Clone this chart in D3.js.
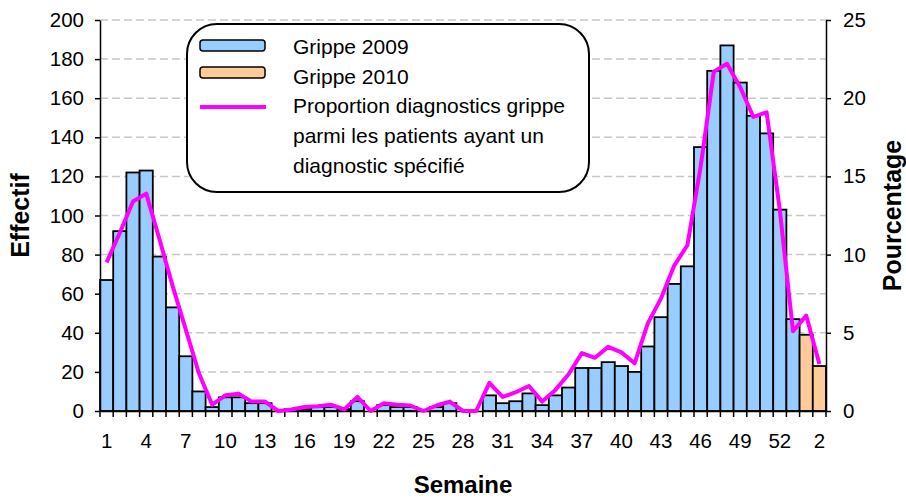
<!DOCTYPE html>
<html>
<head>
<meta charset="utf-8">
<script src="https://cdn.jsdelivr.net/npm/d3@7"></script>
<style>
  body { margin: 0; background: #fff; }
  svg { display: block; font-family: "Liberation Sans", Arial, sans-serif; }
</style>
</head>
<body>
<div id="chart"></div>
<script>
// semaines (2009 : 1..53, puis 2010 : 1..2)
const semaines2009 = [1, 2, 3, 4, 5, 6, 7, 8, 9, 10, 11, 12, 13, 14, 15, 16, 17, 18, 19, 20,
  21, 22, 23, 24, 25, 26, 27, 28, 29, 30, 31, 32, 33, 34, 35, 36, 37, 38, 39, 40,
  41, 42, 43, 44, 45, 46, 47, 48, 49, 50, 51, 52, 53];
const semaines2010 = [1, 2];

// effectifs
const grippe2009 = [67, 92, 122, 123, 79, 53, 28, 10, 2, 7, 7, 4, 4, 0, 1, 1, 2, 2, 1, 5,
  0, 3, 2, 2, 0, 2, 4, 0, 0, 8, 4, 5, 9, 3, 8, 12, 22, 22, 25, 23,
  20, 33, 48, 65, 74, 135, 174, 187, 168, 151, 142, 103, 47];
const grippe2010 = [39, 23];

// proportion (%) - 2009 puis 2010
const proportion = [9.5, 11.4, 13.4, 13.9, 11.0, 8.0, 5.2, 2.4, 0.4, 1.0,
  1.1, 0.6, 0.6, 0, 0.1, 0.25, 0.3, 0.4, 0.1, 0.9,
  0, 0.5, 0.4, 0.35, 0, 0.35, 0.6, 0, 0, 1.8,
  0.9, 1.2, 1.6, 0.6, 1.35, 2.35, 3.7, 3.4, 4.1, 3.75,
  3.05, 5.6, 7.2, 9.3, 10.6, 15.6, 21.7, 22.2, 20.7, 18.8,
  19.1, 12.85, 5.1, 6.1, 3.0];

const yTicks = [0, 20, 40, 60, 80, 100, 120, 140, 160, 180, 200];
const pctTicks = [0, 5, 10, 15, 20, 25];

const legendLabels = ['Grippe 2009', 'Grippe 2010',
  ['Proportion diagnostics grippe', 'parmi les patients ayant un', 'diagnostic spécifié']];

const colors = { g2009: '#99ccff', g2010: '#ffcc99', line: '#ff00ff' };

const width = 906, height = 499;
const margin = { top: 20, right: 80, bottom: 88, left: 100 };

// rows built from the arrays
const rows = semaines2009.map((s, i) => ({ key: `2009-${s}`, label: s, value: grippe2009[i], year: 2009 }))
  .concat(semaines2010.map((s, i) => ({ key: `2010-${s}`, label: s, value: grippe2010[i], year: 2010 })));
rows.forEach((d, i) => { d.pct = proportion[i]; });

const svg = d3.select('#chart')
  .append('svg')
  .attr('width', width)
  .attr('height', height);

const x = d3.scaleBand()
  .domain(rows.map(d => d.key))
  .range([margin.left, width - margin.right])
  .padding(0);

const y = d3.scaleLinear().domain([0, 200]).range([height - margin.bottom, margin.top]);
const yPct = d3.scaleLinear().domain([0, 25]).range([height - margin.bottom, margin.top]);

const x0 = margin.left, x1 = width - margin.right, yBase = y(0);

// gridlines
svg.append('g')
  .selectAll('line')
  .data(yTicks.filter(v => v > 0))
  .join('line')
  .attr('x1', x0).attr('x2', x1)
  .attr('y1', d => y(d)).attr('y2', d => y(d))
  .attr('stroke', '#c8c8c8')
  .attr('stroke-width', 1.5)
  .attr('stroke-dasharray', '8,4');

// bars
svg.append('g')
  .selectAll('rect')
  .data(rows)
  .join('rect')
  .attr('x', d => x(d.key))
  .attr('y', d => y(d.value))
  .attr('width', x.bandwidth())
  .attr('height', d => yBase - y(d.value))
  .attr('fill', d => d.year === 2009 ? colors.g2009 : colors.g2010)
  .attr('stroke', '#000')
  .attr('stroke-width', 1.8);

// left axis
const leftAxis = svg.append('g')
  .attr('transform', `translate(${x0},0)`)
  .call(d3.axisLeft(y).tickValues(yTicks).tickSize(5).tickSizeOuter(0).tickPadding(11));

// right axis
const rightAxis = svg.append('g')
  .attr('transform', `translate(${x1},0)`)
  .call(d3.axisRight(yPct).tickValues(pctTicks).tickSize(5).tickSizeOuter(0).tickPadding(12));

// bottom axis (labels every 3rd week)
const bottomAxis = svg.append('g')
  .attr('transform', `translate(0,${yBase})`)
  .call(d3.axisBottom(x)
    .tickValues(rows.filter((d, i) => i % 3 === 0).map(d => d.key))
    .tickFormat(k => rows.find(d => d.key === k).label)
    .tickSize(0).tickSizeOuter(0).tickPadding(22));

// ticks between categories
svg.append('g')
  .selectAll('line')
  .data(rows.map(d => x(d.key)).concat([x1]))
  .join('line')
  .attr('x1', d => d).attr('x2', d => d)
  .attr('y1', yBase).attr('y2', yBase + 6)
  .attr('stroke', '#000')
  .attr('stroke-width', 1.5);

[leftAxis, rightAxis, bottomAxis].forEach(g => {
  g.selectAll('text').attr('font-size', 20.5).attr('fill', '#000')
    .style('font-family', '"Liberation Sans", Arial, sans-serif');
  g.selectAll('line, path').attr('stroke', '#000').attr('stroke-width', 1.5);
});

// proportion line
const line = d3.line()
  .x(d => x(d.key) + x.bandwidth() / 2)
  .y(d => yPct(d.pct));

svg.append('path')
  .datum(rows)
  .attr('d', line)
  .attr('fill', 'none')
  .attr('stroke', colors.line)
  .attr('stroke-width', 4)
  .attr('stroke-linejoin', 'round');

// axis titles
svg.append('text')
  .attr('transform', `translate(29,${(margin.top + yBase) / 2}) rotate(-90)`)
  .attr('text-anchor', 'middle')
  .attr('font-size', 25)
  .attr('font-weight', 'bold')
  .text('Effectif');

svg.append('text')
  .attr('transform', `translate(901,${(margin.top + yBase) / 2}) rotate(-90)`)
  .attr('text-anchor', 'middle')
  .attr('font-size', 25)
  .attr('font-weight', 'bold')
  .text('Pourcentage');

svg.append('text')
  .attr('x', (x0 + x1) / 2)
  .attr('y', 493)
  .attr('text-anchor', 'middle')
  .attr('font-size', 24)
  .attr('font-weight', 'bold')
  .text('Semaine');

// legend
const legend = svg.append('g');
legend.append('rect')
  .attr('x', 187).attr('y', 24)
  .attr('width', 402).attr('height', 168)
  .attr('rx', 30)
  .attr('fill', '#fff')
  .attr('stroke', '#000')
  .attr('stroke-width', 2);

legend.append('rect')
  .attr('x', 200).attr('y', 40).attr('width', 65).attr('height', 11).attr('rx', 3)
  .attr('fill', colors.g2009).attr('stroke', '#000').attr('stroke-width', 1.5);
legend.append('rect')
  .attr('x', 200).attr('y', 67).attr('width', 65).attr('height', 11).attr('rx', 3)
  .attr('fill', colors.g2010).attr('stroke', '#000').attr('stroke-width', 1.5);
legend.append('line')
  .attr('x1', 200).attr('x2', 266).attr('y1', 107).attr('y2', 107)
  .attr('stroke', colors.line).attr('stroke-width', 4);

const legendLines = [legendLabels[0], legendLabels[1]].concat(legendLabels[2]);
legend.selectAll('text.lg')
  .data(legendLines)
  .join('text')
  .attr('class', 'lg')
  .attr('x', 293)
  .attr('y', (d, i) => 54 + i * 29.7)
  .attr('font-size', 21)
  .text(d => d);
</script>
</body>
</html>
